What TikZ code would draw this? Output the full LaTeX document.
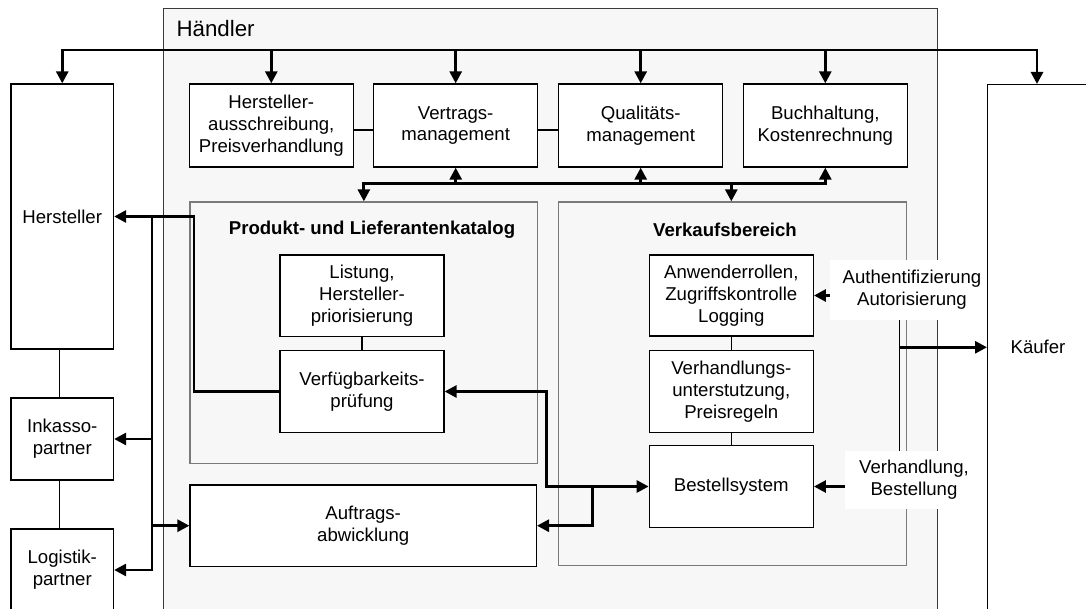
\documentclass[tikz,border=0pt]{standalone}
\usepackage{fontspec}
\setmainfont{Liberation Sans}
\usetikzlibrary{arrows.meta}
\newcommand\diagfont{\fontsize{18.6}{21.7}\selectfont}
\definecolor{areafill}{HTML}{F7F7F7}
\definecolor{arealine}{HTML}{7A7A7A}
\definecolor{outerline}{HTML}{3A3A3A}
\begin{document}
\begin{tikzpicture}[x=1pt,y=-1pt,
  box/.style={draw=black, line width=1.3pt, fill=white, align=center,
    inner sep=1pt, font=\diagfont},
  area/.style={draw=arealine, line width=1.3pt, fill=areafill, inner sep=0pt},
  outer/.style={draw=outerline, line width=1.3pt, fill=areafill, inner sep=0pt},
  tag/.style={fill=white, align=center, inner sep=0pt, font=\diagfont},
  link/.style={line width=1.3pt},
  flow/.style={line width=2.8pt, -{Triangle[length=12pt,width=12pt]}},
  flowboth/.style={line width=2.8pt,
    {Triangle[length=12pt,width=12pt]}-{Triangle[length=12pt,width=12pt]}},
  title/.style={font=\diagfont\bfseries}
]
\useasboundingbox (0,0) rectangle (1086,609);
\clip (0,0) rectangle (1086,609);

% Händler frame
\node[outer, minimum width=773.7pt, minimum height=650pt, anchor=north west]
  (haendler) at (163,8) {};
\node[anchor=base west, font=\fontsize{22.3}{26}\selectfont] (haendlerlabel)
  at (173,37) {Händler};

% external partners
\node[box, minimum width=102.5pt, minimum height=265pt] (hersteller) at (62.25,216.5) {Hersteller};
\node[box, minimum width=102.5pt, minimum height=82pt] (inkasso) at (62.25,439) {Inkasso-\\partner};
\node[box, minimum width=102.5pt, minimum height=82pt] (logistik) at (62.25,570) {Logistik-\\partner};

% top row of merchant functions
\node[box, minimum width=164pt, minimum height=83pt] (hausschr) at (271.3,125.5)
  {Hersteller-\\ausschreibung,\\Preisverhandlung};
\node[box, minimum width=164pt, minimum height=83pt] (vertrag) at (455.7,125.5)
  {Vertrags-\\management};
\node[box, minimum width=164pt, minimum height=83pt] (qualitaet) at (640.7,125.5)
  {Qualitäts-\\management};
\node[box, minimum width=164pt, minimum height=83pt] (buchhaltung) at (825.3,125.5)
  {Buchhaltung,\\Kostenrechnung};

% catalogue and sales areas
\node[area, minimum width=347.7pt, minimum height=261.3pt] (katalog) at (363.85,332.65) {};
\node[title] (katalogtitle) at (372,230) {Produkt- und Lieferantenkatalog};
\node[area, minimum width=348pt, minimum height=363.7pt] (verkauf) at (732.7,383.85) {};
\node[title] (verkauftitle) at (725,230) {Verkaufsbereich};

\node[box, minimum width=164pt, minimum height=81.3pt] (listung) at (362,295.7)
  {Listung,\\Hersteller-\\priorisierung};
\node[box, minimum width=164pt, minimum height=81.6pt] (verfueg) at (362,391.5)
  {Verfügbarkeits-\\prüfung};
\node[box, minimum width=164pt, minimum height=81pt] (anwender) at (731.3,295.5)
  {Anwenderrollen,\\Zugriffskontrolle\\Logging};
\node[box, minimum width=164pt, minimum height=81.6pt] (verhandl) at (731.3,391.5)
  {Verhandlungs-\\unterstutzung,\\Preisregeln};
\node[box, minimum width=164pt, minimum height=81.6pt] (bestell) at (731.3,486.5)
  {Bestellsystem};
\node[box, minimum width=346.3pt, minimum height=81.3pt] (auftrag) at (363.2,525.7)
  {Auftrags-\\abwicklung};

% buyer side
\coordinate (vline) at (899.7,347.3);
\draw[link] (899.7,300) -- (899.7,470);
\node[tag, minimum width=164pt, minimum height=60pt] (authlabel) at (912,290)
  {Authentifizierung\\Autorisierung};
\node[tag, minimum width=138pt, minimum height=58pt] (verhlabel) at (914,480)
  {Verhandlung,\\Bestellung};
\node[draw=black, line width=1.3pt, minimum width=150pt, minimum height=560pt,
  anchor=north west, inner sep=0pt] (kaeufer) at (987,84) {};
\node[font=\diagfont] (kaeufertext) at (1038,347.3) {Käufer};

% plain links between neighbouring boxes
\draw[link] ([yshift=-4.5pt]hausschr.east) -- ([yshift=-4.5pt]vertrag.west);
\draw[link] ([yshift=-4.5pt]vertrag.east) -- ([yshift=-4.5pt]qualitaet.west);
\draw[link] (listung.south) -- (verfueg.north);
\draw[link] (anwender.south) -- (verhandl.north);
\draw[link] (verhandl.south) -- (bestell.north);
\draw[link] ([xshift=-3pt]hersteller.south) -- ([xshift=-3pt]inkasso.north);
\draw[link] ([xshift=-3pt]inkasso.south) -- ([xshift=-3pt]logistik.north);

% top distribution bus
\coordinate (bustop) at (500,50);
\coordinate (kaeuferin) at (1037,84);
\draw[flow] (bustop) -| (hersteller.north);
\draw[flow] (bustop) -| (kaeuferin);
\draw[flow] (hausschr.north |- bustop) -- (hausschr.north);
\draw[flow] (vertrag.north |- bustop) -- (vertrag.north);
\draw[flow] (qualitaet.north |- bustop) -- (qualitaet.north);
\draw[flow] (buchhaltung.north |- bustop) -- (buchhaltung.north);

% second bus between management and operational areas
\coordinate (busmid) at (600,183.3);
\draw[flow] (busmid) -| (katalog.north);
\draw[flow] (busmid) -| (buchhaltung.south);
\draw[flow] (vertrag.south |- busmid) -- (vertrag.south);
\draw[flow] (qualitaet.south |- busmid) -- (qualitaet.south);
\draw[flow] (anwender.north |- busmid) -- (anwender.north |- verkauf.north);

% left side: availability check and order processing to partners
\coordinate (leftbend) at (194,216.5);
\coordinate (ltop) at (152,216.5);
\draw[flow] (verfueg.west) -| (leftbend) -- (hersteller.east);
\draw[flow] (ltop) |- (logistik.east);
\draw[flow] (ltop |- inkasso.east) -- (inkasso.east);
\draw[flow] (ltop |- auftrag.west) -- (auftrag.west);

% middle: ordering system to availability check and order processing
\coordinate (midlow) at (546.3,486.5);
\coordinate (branch) at (592.7,486.5);
\draw[flowboth] (verfueg.east) -| (midlow) -- (bestell.west);
\draw[flow] (branch) |- (auftrag.east);

% right side: buyer interaction
\draw[flow] (vline) -- (vline -| kaeufer.west);
\draw[flow] (authlabel.west |- anwender.east) -- (anwender.east);
\draw[flow] (verhlabel.west |- bestell.east) -- (bestell.east);
\end{tikzpicture}
\end{document}
